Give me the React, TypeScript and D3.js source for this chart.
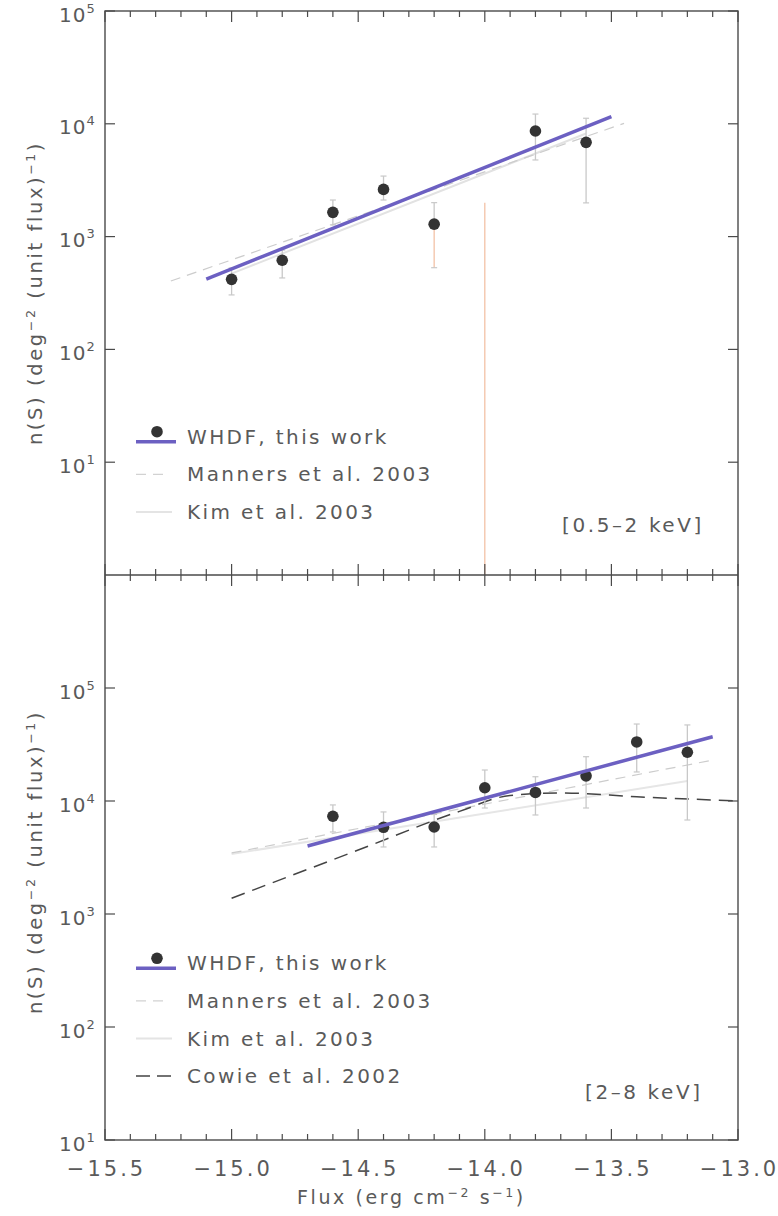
import * as d3 from 'd3';

// 0.5-2 keV band
const softX = [-15.0, -14.8, -14.6, -14.4, -14.2, -13.8, -13.6];
const softN = [418, 617, 1640, 2620, 1290, 8630, 6850];
const softHi = [527, 760, 2110, 3440, 2000, 12200, 11200];
const softLo = [304, 430, 1270, 2110, 530, 4780, 1990];
const softLimitX = [-14.0];
const softLimitHi = [2000];
const softFitX = [-15.1, -13.5];
const softFitN = [420, 11560];
const softMannersX = [-15.24, -13.45];
const softMannersN = [404, 10090];
const softKimX = [-15.0, -13.6];
const softKimN = [470, 8200];

// 2-8 keV band
const hardX = [-14.6, -14.4, -14.2, -14.0, -13.8, -13.6, -13.4, -13.2];
const hardN = [7330, 5850, 5890, 13100, 11900, 16700, 33300, 27000];
const hardHi = [9230, 8000, 7600, 18800, 16400, 24660, 48000, 47100];
const hardLo = [5320, 3920, 3920, 8670, 7520, 8670, 18070, 6790];
const hardFitX = [-14.7, -13.1];
const hardFitN = [4000, 37000];
const hardMannersX = [-15.0, -13.1];
const hardMannersN = [3470, 23000];
const hardKimX = [-15.0, -13.2];
const hardKimN = [3400, 15000];
const cowieX = [-15.0, -14.5, -14.1, -13.9, -13.7, -13.4, -13.0];
const cowieN = [1380, 3680, 8100, 11200, 11800, 10900, 10000];

const xTickLabels = ['−15.5', '−15.0', '−14.5', '−14.0', '−13.5', '−13.0'];
const topDecades = [1, 2, 3, 4, 5];
const botDecades = [1, 2, 3, 4, 5];

const FONT = '"DejaVu Sans", sans-serif';
const INK = '#4a4a4a';
const TXT = '#5a5a5a';
const BLUE = '#6c60c2';

const L = 105, R = 738;
const x = d3.scaleLinear([-15.5, -13.0], [L, R]);
const yTop = d3.scaleLog([1, 1e5], [575, 11]);
const yBot = d3.scaleLog([10, 1e6], [1140, 575]);

type Y = d3.ScaleLogarithmic<number, number>;

function path(xs: number[], ns: number[], y: Y, curve: d3.CurveFactory = d3.curveLinear) {
  const line = d3.line<number>().x((_, i) => x(xs[i])).y((_, i) => y(ns[i])).curve(curve);
  return line(xs) || '';
}

function XTicks({ y0, dir }: { y0: number; dir: number }) {
  const ticks = d3.range(0, 26).map(i => -15.5 + i * 0.1);
  return (
    <g stroke={INK} strokeWidth={1.2}>
      {ticks.map((t, i) => {
        const major = i % 5 === 0;
        return <line key={i} x1={x(t)} x2={x(t)} y1={y0} y2={y0 + dir * (major ? 11 : 6)} />;
      })}
    </g>
  );
}

function YAxis({ y, decades }: { y: Y; decades: number[] }) {
  return (
    <g>
      {decades.map(d => {
        const py = y(Math.pow(10, d));
        return (
          <g key={d}>
            <line x1={L} x2={L + 10} y1={py} y2={py} stroke={INK} strokeWidth={1.2} />
            <line x1={R} x2={R - 10} y1={py} y2={py} stroke={INK} strokeWidth={1.2} />
            <text x={59} y={py + 10.5} fontSize={20} fill={TXT} fontFamily={FONT} letterSpacing={1}>
              10<tspan dy={-9} fontSize={13}>{d}</tspan>
            </text>
          </g>
        );
      })}
    </g>
  );
}

function Points({ xs, ns, hi, lo, y, loColor }: { xs: number[]; ns: number[]; hi: number[]; lo: number[]; y: Y; loColor?: (i: number) => string }) {
  return (
    <g>
      {xs.map((v, i) => {
        const px = x(v);
        return (
          <g key={i}>
            <line x1={px} x2={px} y1={y(hi[i])} y2={y(ns[i])} stroke="#c8c8c8" strokeWidth={1.3} />
            <line x1={px} x2={px} y1={y(ns[i])} y2={y(lo[i])} stroke={loColor ? loColor(i) : '#c8c8c8'} strokeWidth={1.3} />
            <line x1={px - 3} x2={px + 3} y1={y(hi[i])} y2={y(hi[i])} stroke="#c8c8c8" strokeWidth={1.2} />
            <line x1={px - 3} x2={px + 3} y1={y(lo[i])} y2={y(lo[i])} stroke="#c8c8c8" strokeWidth={1.2} />
            <circle cx={px} cy={y(ns[i])} r={5.8} fill="#333" />
          </g>
        );
      })}
    </g>
  );
}

function Legend({ top, cowie }: { top: number; cowie: boolean }) {
  const step = 37.6;
  const rows = ['WHDF, this work', 'Manners et al. 2003', 'Kim et al. 2003'];
  if (cowie) rows.push('Cowie et al. 2002');
  return (
    <g fontFamily={FONT} fontSize={20} fill={TXT} letterSpacing={2.4}>
      <circle cx={157} cy={top - 5} r={5.8} fill="#333" />
      <line x1={136} x2={176} y1={top + 5} y2={top + 5} stroke={BLUE} strokeWidth={3.5} />
      <line x1={136} x2={164} y1={top + step} y2={top + step} stroke="#d2d2d2" strokeWidth={1.2} strokeDasharray="10,7" />
      <line x1={136} x2={172} y1={top + step * 2} y2={top + step * 2} stroke="#e4e4e4" strokeWidth={2} />
      {cowie && <line x1={136} x2={172} y1={top + step * 3} y2={top + step * 3} stroke="#444" strokeWidth={1.5} strokeDasharray="14,7" />}
      {rows.map((r, i) => (
        <text key={r} x={187} y={top + i * step + 7}>{r}</text>
      ))}
    </g>
  );
}

export default function App() {
  const loColorSoft = (i: number) => (i === 4 ? '#f3c2a6' : '#c8c8c8');
  return (
    <div style={{ position: 'absolute', left: 0, top: 0 }}>
      <svg width={778} height={1216} style={{ display: 'block', background: '#fff' }}>
        {/* top panel: 0.5-2 keV */}
        <line x1={x(softLimitX[0])} x2={x(softLimitX[0])} y1={yTop(softLimitHi[0])} y2={575} stroke="#f3c2a6" strokeWidth={1.3} />
        <path d={path(softKimX, softKimN, yTop)} fill="none" stroke="#e2e2e2" strokeWidth={2} />
        <path d={path(softMannersX, softMannersN, yTop)} fill="none" stroke="#cccccc" strokeWidth={1.2} strokeDasharray="10,7" />
        <Points xs={softX} ns={softN} hi={softHi} lo={softLo} y={yTop} loColor={loColorSoft} />
        <path d={path(softFitX, softFitN, yTop)} fill="none" stroke={BLUE} strokeWidth={3.5} />
        <Legend top={436.7} cowie={false} />
        <text x={562} y={532} fontFamily={FONT} fontSize={20} fill={TXT} letterSpacing={2.6}>[0.5–2 keV]</text>

        {/* bottom panel: 2-8 keV */}
        <path d={path(hardKimX, hardKimN, yBot)} fill="none" stroke="#e6e6e6" strokeWidth={2} />
        <path d={path(hardMannersX, hardMannersN, yBot)} fill="none" stroke="#cccccc" strokeWidth={1.2} strokeDasharray="10,7" />
        <path d={path(cowieX, cowieN, yBot, d3.curveMonotoneX)} fill="none" stroke="#444" strokeWidth={1.5} strokeDasharray="14,8" />
        <Points xs={hardX} ns={hardN} hi={hardHi} lo={hardLo} y={yBot} />
        <path d={path(hardFitX, hardFitN, yBot)} fill="none" stroke={BLUE} strokeWidth={3.5} />
        <Legend top={963.3} cowie={true} />
        <text x={585} y={1099} fontFamily={FONT} fontSize={20} fill={TXT} letterSpacing={2.6}>[2–8 keV]</text>

        {/* frames */}
        <rect x={L} y={11} width={R - L} height={1140 - 11} fill="none" stroke={INK} strokeWidth={1.4} />
        <line x1={L} x2={R} y1={575} y2={575} stroke={INK} strokeWidth={1.4} />
        <XTicks y0={11} dir={1} />
        <XTicks y0={575} dir={-1} />
        <XTicks y0={575} dir={1} />
        <XTicks y0={1140} dir={-1} />
        <YAxis y={yTop} decades={topDecades} />
        <YAxis y={yBot} decades={botDecades} />

        {xTickLabels.map((t, i) => (
          <text key={t} x={x(-15.5 + i * 0.5) + 1.5} y={1176} textAnchor="middle" fontFamily={FONT} fontSize={21} fill={TXT} letterSpacing={3}>{t}</text>
        ))}
        <text x={297} y={1204} fontFamily={FONT} fontSize={19} fill={TXT} letterSpacing={2.6}>
          Flux (erg cm<tspan dy={-7} fontSize={12.5}>−2</tspan><tspan dy={7}> s</tspan><tspan dy={-7} fontSize={12.5}>−1</tspan><tspan dy={7}>)</tspan>
        </text>
        {[293, 862].map(cy => (
          <text key={cy} transform={`translate(42,${cy}) rotate(-90)`} textAnchor="middle" fontFamily={FONT} fontSize={19.5} fill={TXT} letterSpacing={2.6}>
            n(S) (deg<tspan dy={-7} fontSize={12.5}>−2</tspan><tspan dy={7}> (unit flux)</tspan><tspan dy={-7} fontSize={12.5}>−1</tspan><tspan dy={7}>)</tspan>
          </text>
        ))}
      </svg>
    </div>
  );
}
